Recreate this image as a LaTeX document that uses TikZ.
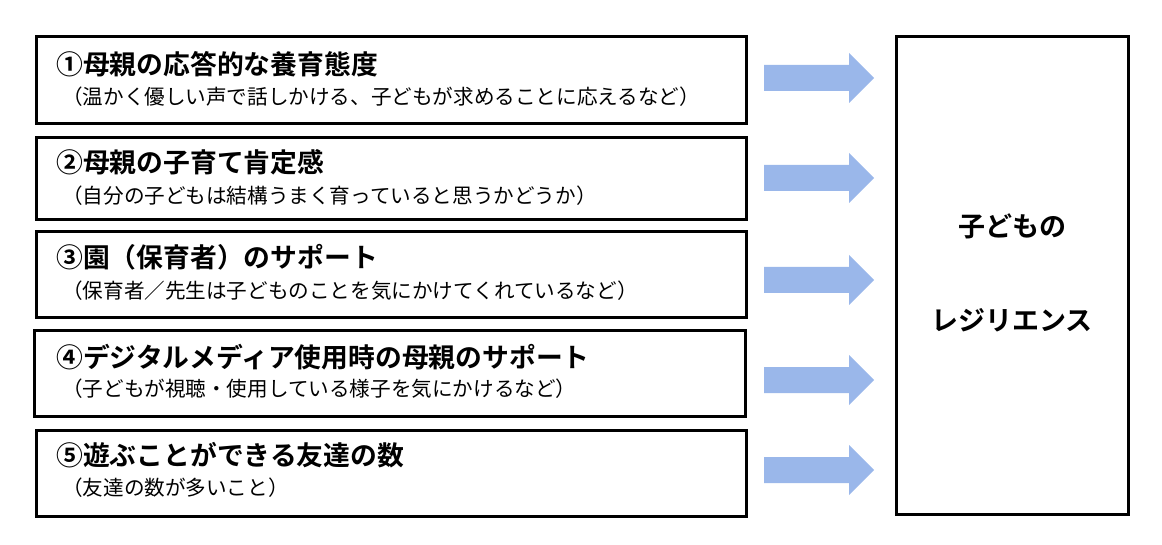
\documentclass[tikz,border=0pt]{standalone}
\usepackage{fontspec}
\newfontfamily\jp{Noto Sans CJK JP}
\newfontfamily\jpb{Noto Sans CJK JP Bold}
\definecolor{arrowblue}{HTML}{9AB7EA}
\tikzset{
  itembox/.style={draw=black, line width=3pt},
  ttl/.style={anchor=west, inner sep=0pt, font=\jpb\fontsize{26.8}{30}\selectfont},
  sub/.style={anchor=west, inner sep=0pt, font=\jp\fontsize{20.6}{24}\selectfont},
  arrowfill/.style={fill=arrowblue, draw=none},
  rtxt/.style={inner sep=0pt, font=\jpb\fontsize{27}{32}\selectfont}
}
\newcommand{\fatarrow}[1]{%
  \fill[arrowfill] ($(#1)+(0,-13)$) -- ++(85,0) -- ++(0,-12) -- ++(25,25) -- ++(-25,25) -- ++(0,-12) -- ++(-85,0) -- cycle;}
\usetikzlibrary{calc}
\begin{document}
\begin{tikzpicture}[x=1pt,y=-1pt]
\useasboundingbox (0,0) rectangle (1162,545);
% left boxes
\draw[itembox] (36,37) rectangle (746,124);
\draw[itembox] (36,138) rectangle (746,220);
\draw[itembox] (36,232) rectangle (746,318);
\draw[itembox] (34,331) rectangle (745,416);
\draw[itembox] (36,430) rectangle (746,516);
% right box
\draw[itembox] (896,37) rectangle (1128,514);
% titles
\node[ttl] (t1) at (56,64) {①母親の応答的な養育態度};
\node[sub] (s1) at (62,97) {（温かく優しい声で話しかける、子どもが求めることに応えるなど）};
\node[ttl] (t2) at (56,162.5) {②母親の子育て肯定感};
\node[sub] (s2) at (62,196) {（自分の子どもは結構うまく育っていると思うかどうか）};
\node[ttl] (t3) at (56,257) {③園（保育者）のサポート};
\node[sub] (s3) at (62,291) {（保育者／先生は子どものことを気にかけてくれているなど）};
\node[ttl] (t4) at (56,357) {④デジタルメディア使用時の母親のサポート};
\node[sub] (s4) at (62,389) {（子どもが視聴・使用している様子を気にかけるなど）};
\node[ttl] (t5) at (56,455) {⑤遊ぶことができる友達の数};
\node[sub] (s5) at (62,488) {（友達の数が多いこと）};
% arrows
\coordinate (a1) at (764,78);
\coordinate (a2) at (764,178);
\coordinate (a3) at (764,280);
\coordinate (a4) at (764,380);
\coordinate (a5) at (764,470);
\fatarrow{a1}
\fatarrow{a2}
\fatarrow{a3}
\fatarrow{a4}
\fatarrow{a5}
% right text
\node[rtxt] (r1) at (1012,226) {子どもの};
\node[rtxt] (r2) at (1012,320) {レジリエンス};
\end{tikzpicture}
\end{document}
